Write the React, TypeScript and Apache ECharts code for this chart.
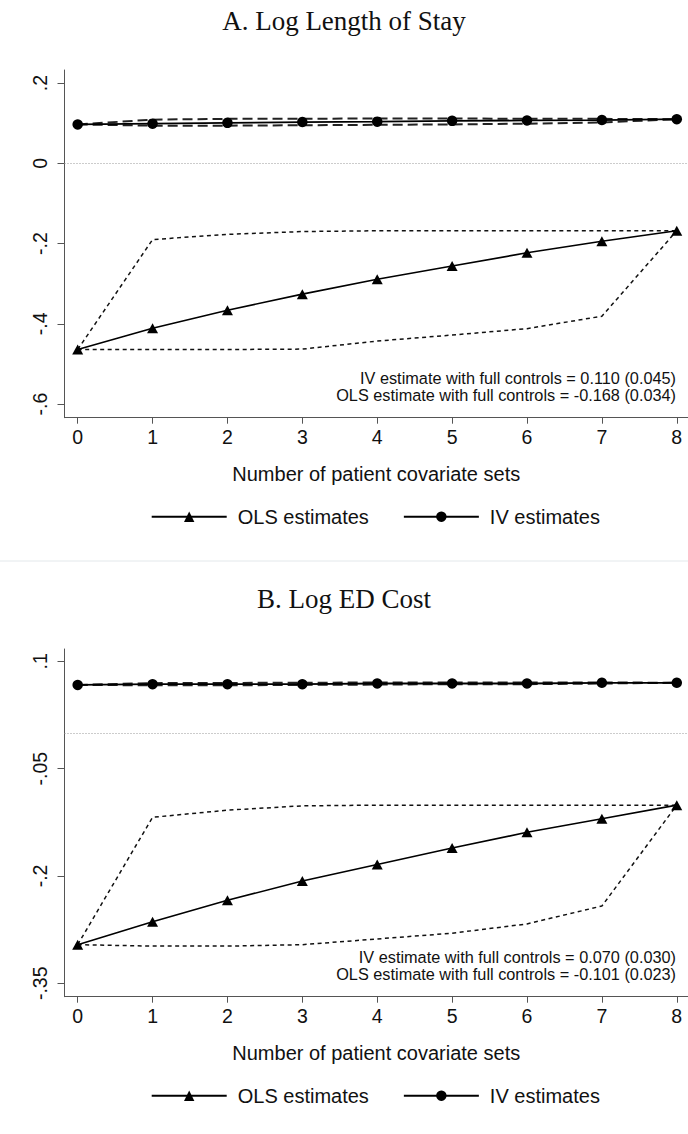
import React, { useEffect, useRef } from "react";
import * as echarts from "echarts";

// ---- data ----
const xSets = [0, 1, 2, 3, 4, 5, 6, 7, 8];

// Panel A: Log Length of Stay
const olsA = [-0.464, -0.411, -0.366, -0.326, -0.289, -0.256, -0.223, -0.194, -0.168];
const olsUpperA = [-0.464, -0.19, -0.177, -0.17, -0.168, -0.168, -0.168, -0.168, -0.168];
const olsLowerA = [-0.464, -0.464, -0.464, -0.463, -0.443, -0.428, -0.412, -0.381, -0.168];
const ivA = [0.097, 0.099, 0.101, 0.103, 0.104, 0.106, 0.107, 0.108, 0.11];
const ivUpperA = [0.097, 0.109, 0.111, 0.111, 0.112, 0.112, 0.111, 0.111, 0.11];
const ivLowerA = [0.097, 0.094, 0.094, 0.095, 0.096, 0.097, 0.099, 0.102, 0.11];
const yTicksA = [-0.6, -0.4, -0.2, 0, 0.2];
const noteA = [
  "IV estimate with full controls = 0.110 (0.045)",
  "OLS estimate with full controls = -0.168 (0.034)",
];

// Panel B: Log ED Cost
const olsB = [-0.296, -0.264, -0.234, -0.207, -0.184, -0.161, -0.139, -0.12, -0.101];
const olsUpperB = [-0.296, -0.118, -0.108, -0.102, -0.101, -0.101, -0.101, -0.101, -0.101];
const olsLowerB = [-0.296, -0.298, -0.298, -0.296, -0.288, -0.28, -0.267, -0.242, -0.101];
const ivB = [0.067, 0.068, 0.068, 0.068, 0.069, 0.069, 0.069, 0.07, 0.07];
const ivUpperB = [0.067, 0.0695, 0.0698, 0.07, 0.0705, 0.0705, 0.0705, 0.0705, 0.07];
const ivLowerB = [0.067, 0.0665, 0.0665, 0.067, 0.0675, 0.068, 0.068, 0.069, 0.07];
const yTicksB = [-0.35, -0.2, -0.05, 0.1];
const noteB = [
  "IV estimate with full controls = 0.070 (0.030)",
  "OLS estimate with full controls = -0.101 (0.023)",
];

const titles = ["A. Log Length of Stay", "B. Log ED Cost"];
const xTitle = "Number of patient covariate sets";
const OLS = "OLS estimates";
const IV = "IV estimates";

const SANS = "'Liberation Sans', Arial, Helvetica, sans-serif";
const SERIF = "'Liberation Serif', 'Times New Roman', serif";

const fmt = (v: number) => {
  if (Math.abs(v) < 1e-9) return "0";
  const s = String(Math.round(v * 1000) / 1000);
  return s.replace("0.", ".");
};

const pairs = (ys: number[]) => xSets.map((x, i) => [x, ys[i]]);

function App() {
  const ref = useRef<HTMLDivElement>(null);

  useEffect(() => {
    if (!ref.current) return;
    const chart = echarts.init(ref.current, undefined, { renderer: "svg" });

    const panels = [
      {
        top: 70, min: -0.634, max: 0.2327, ticks: yTicksA,
        ols: olsA, olsU: olsUpperA, olsL: olsLowerA, iv: ivA, ivU: ivUpperA, ivL: ivLowerA,
      },
      {
        top: 649, min: -0.3687, max: 0.1172, ticks: yTicksB,
        ols: olsB, olsU: olsUpperB, olsL: olsLowerB, iv: ivB, ivU: ivUpperB, ivL: ivLowerB,
      },
    ];
    const gridH = 347.7;
    const axisColor = "#555";

    const grids: any[] = [];
    const xAxes: any[] = [];
    const yAxes: any[] = [];
    const series: any[] = [];
    const legends: any[] = [];

    panels.forEach((p, gi) => {
      grids.push({ left: 64.5, width: 623.5, top: p.top, height: gridH });
      xAxes.push({
        type: "value",
        gridIndex: gi,
        min: -0.176,
        max: 8.15,
        axisLine: { show: true, onZero: false, lineStyle: { color: axisColor, width: 1 } },
        axisTick: { show: true, length: 6, customValues: xSets, lineStyle: { color: axisColor, width: 1 } },
        axisLabel: { customValues: xSets, fontSize: 19.5, color: "#111", margin: 9, fontFamily: SANS },
        splitLine: { show: false },
        name: xTitle,
        nameLocation: "middle",
        nameGap: 46,
        nameTextStyle: { fontSize: 20, color: "#111", fontFamily: SANS },
      });
      yAxes.push({
        type: "value",
        gridIndex: gi,
        min: p.min,
        max: p.max,
        axisLine: { show: true, onZero: false, lineStyle: { color: axisColor, width: 1 } },
        axisTick: { show: true, length: 7, customValues: p.ticks, lineStyle: { color: axisColor, width: 1 } },
        axisLabel: {
          customValues: p.ticks, rotate: 90, fontSize: 19.5, color: "#111", margin: 15,
          fontFamily: SANS, formatter: (v: number) => fmt(v),
        },
        splitLine: { show: false },
      });

      const ciOls = { color: "#111", width: 1.5, type: [4, 3.5] };
      const ciIv = { color: "#222", width: 2, type: [10, 5] };
      const base = { type: "line", xAxisIndex: gi, yAxisIndex: gi, symbol: "none", silent: true, z: 2 };
      series.push({ ...base, name: "olsU" + gi, data: pairs(p.olsU), lineStyle: ciOls });
      series.push({ ...base, name: "olsL" + gi, data: pairs(p.olsL), lineStyle: ciOls });
      series.push({ ...base, name: "ivU" + gi, data: pairs(p.ivU), lineStyle: ciIv });
      series.push({ ...base, name: "ivL" + gi, data: pairs(p.ivL), lineStyle: ciIv });
      series.push({
        type: "line", name: OLS, xAxisIndex: gi, yAxisIndex: gi, data: pairs(p.ols),
        symbol: "triangle", symbolSize: [11, 10], z: 3,
        lineStyle: { color: "#000", width: 1.6 }, itemStyle: { color: "#000" },
        markLine: {
          silent: true, symbol: ["none", "none"], label: { show: false },
          lineStyle: { color: "#999", width: 1, type: [1, 2] },
          data: [{ yAxis: 0 }],
        },
      });
      series.push({
        type: "line", name: IV, xAxisIndex: gi, yAxisIndex: gi, data: pairs(p.iv),
        symbol: "circle", symbolSize: 10.5, z: 3,
        lineStyle: { color: "#000", width: 1.8 }, itemStyle: { color: "#000" },
      });

      legends.push({
        data: [OLS, IV],
        left: 150.7,
        top: p.top + gridH + 89,
        padding: 0,
        itemWidth: 75,
        itemHeight: 13,
        itemGap: 34,
        selectedMode: false,
        textStyle: { fontSize: 20, color: "#111", fontFamily: SANS, padding: [0, 0, 0, 6] },
      });
    });

    const graphics: any[] = [
      {
        type: "line", silent: true,
        shape: { x1: 0, y1: 561, x2: 688, y2: 561 },
        style: { stroke: "#e3e8eb", lineWidth: 1 },
      },
    ];
    const titleY = [21, 599];
    titles.forEach((t, i) => {
      graphics.push({
        type: "text", x: 344, y: titleY[i], silent: true,
        style: { text: t, font: `27px ${SERIF}`, fill: "#111", textAlign: "center", textVerticalAlign: "middle" },
      });
    });
    const notes = [noteA, noteB];
    const noteY = [378.3, 957.3];
    notes.forEach((n, i) => {
      n.forEach((line, j) => {
        graphics.push({
          type: "text", x: 676, y: noteY[i] + j * 16.5, silent: true,
          style: { text: line, font: `16.3px ${SANS}`, fill: "#111", textAlign: "right", textVerticalAlign: "middle" },
        });
      });
    });

    chart.setOption({
      animation: false,
      backgroundColor: "#fff",
      grid: grids,
      xAxis: xAxes,
      yAxis: yAxes,
      legend: legends,
      series,
      graphic: graphics,
    });

    return () => chart.dispose();
  }, []);

  return (
    <div
      ref={ref}
      style={{ position: "absolute", left: 0, top: 0, width: 688, height: 1134, background: "#fff" }}
    />
  );
}

export default App;
